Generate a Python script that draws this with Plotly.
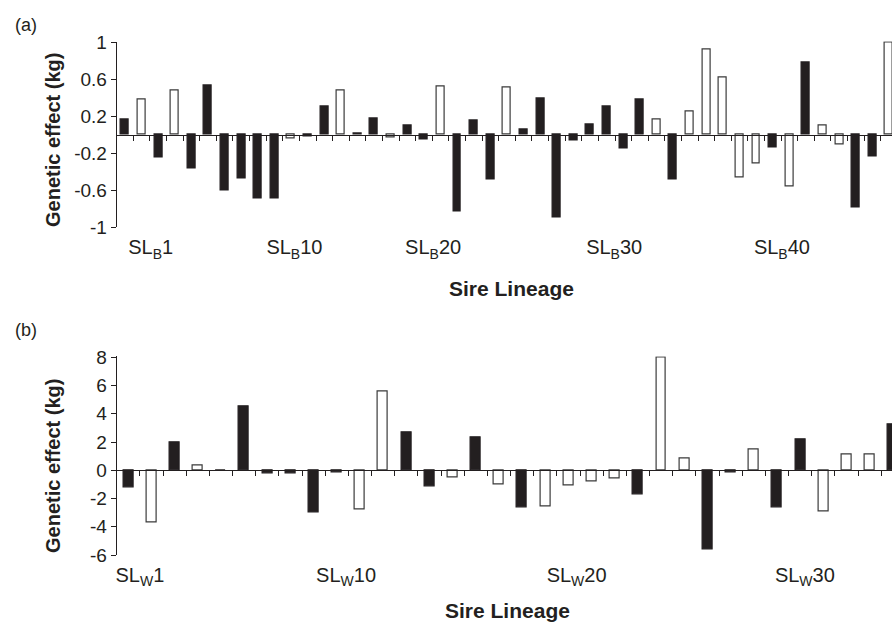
import plotly.graph_objects as go

# ---------------- data ----------------
effect_a = [0.16, 0.38, -0.25, 0.48, -0.36, 0.53, -0.60, -0.47, -0.69, -0.69,
            -0.04, -0.02, 0.31, 0.48, 0.01, 0.18, -0.03, 0.10, -0.05, 0.52,
            -0.83, 0.15, -0.48, 0.51, 0.06, 0.39, -0.90, -0.06, 0.11, 0.31,
            -0.15, 0.38, 0.17, -0.48, 0.25, 0.92, 0.62, -0.46, -0.31, -0.14,
            -0.56, 0.78, 0.10, -0.11, -0.79, -0.24, 1.00]
signif_a = [1, 0, 1, 0, 1, 1, 1, 1, 1, 1,
            0, 1, 1, 0, 1, 1, 0, 1, 1, 0,
            1, 1, 1, 0, 1, 1, 1, 1, 1, 1,
            1, 1, 0, 1, 0, 0, 0, 0, 0, 1,
            0, 1, 0, 0, 1, 1, 0]

effect_b = [-1.2, -3.7, 2.0, 0.35, 0.0, 4.5, -0.2, -0.25, -3.0, -0.15,
            -2.8, 5.6, 2.7, -1.15, -0.5, 2.3, -1.0, -2.6, -2.55, -1.1,
            -0.8, -0.6, -1.7, 8.0, 0.85, -5.6, -0.15, 1.5, -2.6, 2.2,
            -2.95, 1.15, 1.1, 3.25]
signif_b = [1, 0, 1, 0, 1, 1, 1, 1, 1, 1,
            0, 0, 1, 1, 0, 1, 0, 1, 0, 0,
            0, 0, 1, 0, 0, 1, 1, 0, 1, 1,
            0, 0, 0, 1]

label_nums_a = [1, 10, 20, 30, 40]
label_nums_b = [1, 10, 20, 30]
yticks_a = [-1, -0.6, -0.2, 0.2, 0.6, 1]
yticks_b = [-6, -4, -2, 0, 2, 4, 6, 8]

# ---------------- layout helpers ----------------
W, H = 892, 623
INK = '#231f20'
FONT = 'Liberation Sans, Arial, Helvetica, sans-serif'


def fx(p):
    return p / W


def fy(p):
    return 1 - p / H


# small headroom so the outline of the tallest bar is not clipped
rng_a = [-1, 1.008]
rng_b = [-6, 8.06]
px_per_a = (227.3 - 42.3) / 2.0
px_per_b = (555.0 - 357.3) / 14.0
x_dom = [fx(116.7), 1.0]
dom_a = [fy(227.3), fy(227.3 - (rng_a[1] - rng_a[0]) * px_per_a)]
dom_b = [fy(555.0), fy(555.0 - (rng_b[1] - rng_b[0]) * px_per_b)]
xr_a = [0.5, 0.5 + (W - 116.7) / 16.61]
xr_b = [0.5, 0.5 + (W - 116.7) / 23.17]
label_pos_a = [2.55, 11.2, 19.55, 30.45, 40.55]
label_pos_b = [1.5, 10.4, 20.35, 30.2]


def zero_pos(dom, rng):
    return dom[0] + (0 - rng[0]) / (rng[1] - rng[0]) * (dom[1] - dom[0])


fig = go.Figure()


def add_panel(vals, sig, xa, xz, ya, width):
    idx = list(range(1, len(vals) + 1))
    fills = [INK if s else 'white' for s in sig]
    lines = [INK if s else '#3a3a3a' for s in sig]
    fig.add_trace(go.Bar(x=idx, y=vals, xaxis=xa, yaxis=ya, width=width,
                         marker=dict(color=fills, line=dict(color=lines, width=1.2)),
                         showlegend=False))
    fig.add_trace(go.Scatter(x=idx, y=vals, xaxis=xz, yaxis=ya, mode='markers',
                             marker=dict(opacity=0), showlegend=False,
                             hoverinfo='skip'))


add_panel(effect_a, signif_a, 'x', 'x3', 'y', 0.48)
add_panel(effect_b, signif_b, 'x2', 'x4', 'y2', 0.43)

label_axis = dict(showline=False, ticks='', showgrid=False, zeroline=False,
                  tickmode='array', tickfont=dict(size=20, color=INK, family=FONT),
                  domain=x_dom, ticklabelstandoff=6)
zero_axis = dict(showline=True, linecolor=INK, linewidth=1, ticks='outside',
                 ticklen=5, tickwidth=1.2, tickcolor=INK, tickmode='linear',
                 tick0=0.5, dtick=1, showticklabels=False, showgrid=False,
                 zeroline=False, anchor='free', domain=x_dom)
y_axis = dict(showline=True, linecolor=INK, linewidth=1, ticks='outside',
              ticklen=5, tickwidth=1, tickcolor=INK, showgrid=False,
              zeroline=False, tickmode='array',
              tickfont=dict(size=19, color=INK, family=FONT))

fig.update_layout(
    width=W, height=H,
    margin=dict(l=0, r=0, t=0, b=0, autoexpand=False),
    paper_bgcolor='white', plot_bgcolor='white',
    font=dict(family=FONT, color=INK),
    showlegend=False,
    bargap=0,
    xaxis=dict(label_axis, anchor='y', range=xr_a,
               tickvals=label_pos_a,
               ticktext=[f'SL<sub>B</sub>{n}' for n in label_nums_a]),
    xaxis2=dict(label_axis, anchor='y2', range=xr_b,
                tickvals=label_pos_b,
                ticktext=[f'SL<sub>W</sub>{n}' for n in label_nums_b]),
    xaxis3=dict(zero_axis, overlaying='x', range=xr_a,
                position=zero_pos(dom_a, rng_a)),
    xaxis4=dict(zero_axis, overlaying='x2', range=xr_b,
                position=zero_pos(dom_b, rng_b)),
    yaxis=dict(y_axis, anchor='x', domain=dom_a, range=rng_a,
               tickvals=yticks_a, ticktext=[f'{v:g}' for v in yticks_a]),
    yaxis2=dict(y_axis, anchor='x2', domain=dom_b, range=rng_b,
                tickvals=yticks_b, ticktext=[f'{v:g}' for v in yticks_b]),
)

ann = []
for txt, x, y in [('(a)', 13, 25), ('(b)', 13, 330)]:
    ann.append(dict(text=txt, x=fx(x), y=fy(y), xref='paper', yref='paper',
                    xanchor='left', yanchor='middle', showarrow=False,
                    font=dict(size=18, color=INK, family=FONT)))
for y in [140, 466]:
    ann.append(dict(text='<b>Genetic effect (kg)</b>', x=fx(53), y=fy(y),
                    xref='paper', yref='paper', textangle=-90,
                    xanchor='center', yanchor='middle', showarrow=False,
                    font=dict(size=20, color=INK, family=FONT)))
for x, y in [(511, 288), (507, 610)]:
    ann.append(dict(text='<b>Sire Lineage</b>', x=fx(x), y=fy(y),
                    xref='paper', yref='paper', xanchor='center',
                    yanchor='middle', showarrow=False,
                    font=dict(size=21, color=INK, family=FONT)))
fig.update_layout(annotations=ann)

fig.write_html('out.html',
               config={'displayModeBar': False},
               post_script="document.body.style.margin='0';"
                           "document.body.style.overflow='hidden';")
